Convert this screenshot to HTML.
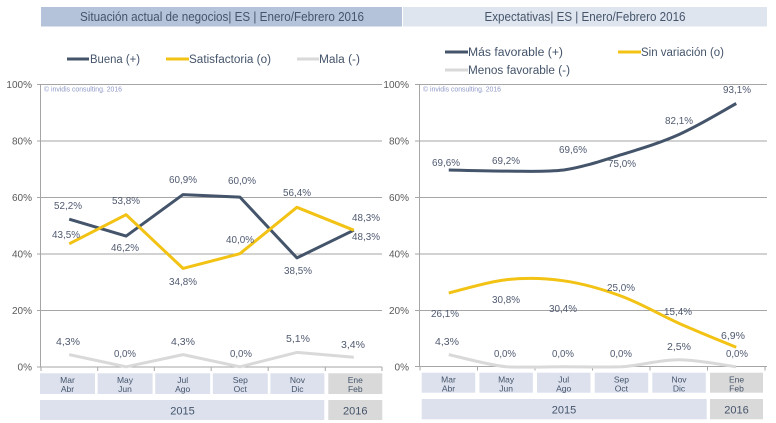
<!DOCTYPE html>
<html><head><meta charset="utf-8"><style>
html,body{margin:0;padding:0;background:#fff;}
svg{display:block;}
text{font-family:"Liberation Sans",sans-serif;}
</style></head><body>
<svg width="776" height="423" viewBox="0 0 776 423" xmlns="http://www.w3.org/2000/svg">
<!-- Title bars -->
<rect x="41" y="7" width="361" height="19.5" fill="#b4c2da"/>
<rect x="403" y="7" width="364" height="19.5" fill="#dfe5ef"/>
<text x="222" y="21" font-size="12.5" fill="#44546a" text-anchor="middle" textLength="284" lengthAdjust="spacingAndGlyphs">Situación actual de negocios| ES | Enero/Febrero 2016</text>
<text x="585" y="21" font-size="12.5" fill="#44546a" text-anchor="middle" textLength="201" lengthAdjust="spacingAndGlyphs">Expectativas| ES | Enero/Febrero 2016</text>

<!-- Left legend -->
<g font-size="11.5" fill="#44546a">
<line x1="67" y1="59" x2="89" y2="59" stroke="#44546a" stroke-width="3"/>
<text x="90" y="63" textLength="50" lengthAdjust="spacingAndGlyphs">Buena (+)</text>
<line x1="166" y1="59" x2="189" y2="59" stroke="#f2c314" stroke-width="3"/>
<text x="189" y="63" textLength="82" lengthAdjust="spacingAndGlyphs">Satisfactoria (o)</text>
<line x1="297" y1="59" x2="319" y2="59" stroke="#d9d9d9" stroke-width="3"/>
<text x="319" y="63" textLength="41" lengthAdjust="spacingAndGlyphs">Mala (-)</text>
<!-- Right legend -->
<line x1="445" y1="52" x2="468" y2="52" stroke="#44546a" stroke-width="3"/>
<text x="468" y="56" textLength="95" lengthAdjust="spacingAndGlyphs">Más favorable (+)</text>
<line x1="618" y1="52" x2="641" y2="52" stroke="#f2c314" stroke-width="3"/>
<text x="641" y="56" textLength="83" lengthAdjust="spacingAndGlyphs">Sin variación (o)</text>
<line x1="445" y1="70" x2="468" y2="70" stroke="#d9d9d9" stroke-width="3"/>
<text x="468" y="74" textLength="102" lengthAdjust="spacingAndGlyphs">Menos favorable (-)</text>
</g>

<!-- Left grid -->
<g stroke="#a6a6a6" stroke-width="1">
<line x1="37" y1="84.5" x2="382" y2="84.5"/>
<line x1="37" y1="141" x2="382" y2="141"/>
<line x1="37" y1="197.5" x2="382" y2="197.5"/>
<line x1="37" y1="254" x2="382" y2="254"/>
<line x1="37" y1="310.5" x2="382" y2="310.5"/>
<line x1="37" y1="367" x2="382" y2="367"/>
<line x1="40.5" y1="84" x2="40.5" y2="367"/>
<line x1="41" y1="367" x2="41" y2="371"/>
<line x1="97.7" y1="367" x2="97.7" y2="371"/>
<line x1="154.3" y1="367" x2="154.3" y2="371"/>
<line x1="211.2" y1="367" x2="211.2" y2="371"/>
<line x1="268.2" y1="367" x2="268.2" y2="371"/>
<line x1="325.3" y1="367" x2="325.3" y2="371"/>
<line x1="382" y1="367" x2="382" y2="371"/>
</g>
<!-- Right grid -->
<g stroke="#a6a6a6" stroke-width="1">
<line x1="415" y1="84.5" x2="767" y2="84.5"/>
<line x1="415" y1="141" x2="767" y2="141"/>
<line x1="415" y1="197.5" x2="767" y2="197.5"/>
<line x1="415" y1="254" x2="767" y2="254"/>
<line x1="415" y1="310.5" x2="767" y2="310.5"/>
<line x1="415" y1="366.5" x2="767" y2="366.5"/>
<line x1="419.5" y1="84" x2="419.5" y2="367"/>
<line x1="420" y1="366.5" x2="420" y2="370.5"/>
<line x1="477.5" y1="366.5" x2="477.5" y2="370.5"/>
<line x1="535" y1="366.5" x2="535" y2="370.5"/>
<line x1="592.5" y1="366.5" x2="592.5" y2="370.5"/>
<line x1="650" y1="366.5" x2="650" y2="370.5"/>
<line x1="707.5" y1="366.5" x2="707.5" y2="370.5"/>
<line x1="765" y1="366.5" x2="765" y2="370.5"/>
</g>

<!-- Y axis labels -->
<g font-size="10" fill="#595959" text-anchor="end">
<text x="32" y="88">100%</text>
<text x="32" y="144.5">80%</text>
<text x="32" y="201">60%</text>
<text x="32" y="257.5">40%</text>
<text x="32" y="314">20%</text>
<text x="32" y="370.5">0%</text>
<text x="409" y="88">100%</text>
<text x="409" y="144.5">80%</text>
<text x="409" y="201">60%</text>
<text x="409" y="257.5">40%</text>
<text x="409" y="314">20%</text>
<text x="409" y="370.5">0%</text>
</g>

<!-- Copyright -->
<text x="44" y="91.5" font-size="7" fill="#8e98c6" textLength="78" lengthAdjust="spacingAndGlyphs">© invidis consulting. 2016</text>
<text x="423" y="91.5" font-size="7" fill="#8e98c6" textLength="78" lengthAdjust="spacingAndGlyphs">© invidis consulting. 2016</text>

<!-- Left series -->
<g fill="none" stroke-width="3" stroke-linejoin="round">
<polyline stroke="#d9d9d9" points="69.2,354.6 126.1,366.8 183,354.6 239.9,366.8 296.9,352.4 353.8,357.2"/>
<polyline stroke="#44546a" points="69.2,219.2 126.1,236.1 183,194.6 239.9,197.1 296.9,257.9 353.8,230.2"/>
<polyline stroke="#f2c314" points="69.2,243.8 126.1,214.7 183,268.4 239.9,253.7 296.9,207.3 353.8,230.2"/>
</g>
<!-- Right series -->
<g fill="none" stroke-width="3" stroke-linejoin="round">
<path stroke="#d9d9d9" d="M448.75,354.6 C458.33,356.63 487.08,364.77 506.25,366.8 C525.42,367.6 544.58,366.8 563.75,366.8 C582.92,366.8 602.08,367.4 621.25,366.8 C640.42,365.62 659.58,359.7 678.75,359.7 C697.92,359.7 726.67,365.62 736.25,366.8"/>
<path stroke="#44546a" d="M448.75,170 C458.33,170.18 487.08,171.1 506.25,171.1 C525.42,171.1 544.58,172.2 563.75,170 C582.92,167.27 602.08,160.6 621.25,154.7 C640.42,148.8 659.58,143.13 678.75,134.6 C697.92,126.07 726.67,108.68 736.25,103.5"/>
<path stroke="#f2c314" d="M448.75,293 C458.33,290.78 487.08,281.73 506.25,279.7 C525.42,277.67 544.58,278.07 563.75,280.8 C582.92,283.53 602.08,289.03 621.25,296.1 C640.42,303.17 659.58,314.67 678.75,323.2 C697.92,331.73 726.67,343.28 736.25,347.3"/>
</g>

<!-- Data labels left -->
<g font-size="10" fill="#505a70" text-anchor="middle">
<text x="68" y="209" textLength="28" lengthAdjust="spacingAndGlyphs">52,2%</text>
<text x="66" y="238" textLength="28" lengthAdjust="spacingAndGlyphs">43,5%</text>
<text x="126" y="204" textLength="28" lengthAdjust="spacingAndGlyphs">53,8%</text>
<text x="125" y="251" textLength="28" lengthAdjust="spacingAndGlyphs">46,2%</text>
<text x="183" y="183" textLength="28" lengthAdjust="spacingAndGlyphs">60,9%</text>
<text x="183" y="285" textLength="28" lengthAdjust="spacingAndGlyphs">34,8%</text>
<text x="242" y="184" textLength="28" lengthAdjust="spacingAndGlyphs">60,0%</text>
<text x="240" y="243" textLength="28" lengthAdjust="spacingAndGlyphs">40,0%</text>
<text x="297" y="196" textLength="28" lengthAdjust="spacingAndGlyphs">56,4%</text>
<text x="298" y="274" textLength="28" lengthAdjust="spacingAndGlyphs">38,5%</text>
<text x="366" y="221" textLength="28" lengthAdjust="spacingAndGlyphs">48,3%</text>
<text x="366" y="240" textLength="28" lengthAdjust="spacingAndGlyphs">48,3%</text>
<text x="68" y="345" textLength="24" lengthAdjust="spacingAndGlyphs">4,3%</text>
<text x="125" y="357" textLength="22" lengthAdjust="spacingAndGlyphs">0,0%</text>
<text x="183" y="345" textLength="24" lengthAdjust="spacingAndGlyphs">4,3%</text>
<text x="241" y="357" textLength="22" lengthAdjust="spacingAndGlyphs">0,0%</text>
<text x="298" y="342" textLength="24" lengthAdjust="spacingAndGlyphs">5,1%</text>
<text x="353" y="348" textLength="24" lengthAdjust="spacingAndGlyphs">3,4%</text>
</g>
<!-- Data labels right -->
<g font-size="10" fill="#505a70" text-anchor="middle">
<text x="446" y="166" textLength="28" lengthAdjust="spacingAndGlyphs">69,6%</text>
<text x="506" y="164" textLength="28" lengthAdjust="spacingAndGlyphs">69,2%</text>
<text x="573" y="153" textLength="28" lengthAdjust="spacingAndGlyphs">69,6%</text>
<text x="622" y="167" textLength="28" lengthAdjust="spacingAndGlyphs">75,0%</text>
<text x="679" y="124" textLength="28" lengthAdjust="spacingAndGlyphs">82,1%</text>
<text x="737" y="93" textLength="28" lengthAdjust="spacingAndGlyphs">93,1%</text>
<text x="445" y="317" textLength="28" lengthAdjust="spacingAndGlyphs">26,1%</text>
<text x="506" y="303" textLength="28" lengthAdjust="spacingAndGlyphs">30,8%</text>
<text x="563" y="312" textLength="28" lengthAdjust="spacingAndGlyphs">30,4%</text>
<text x="621" y="291" textLength="28" lengthAdjust="spacingAndGlyphs">25,0%</text>
<text x="678" y="315" textLength="28" lengthAdjust="spacingAndGlyphs">15,4%</text>
<text x="733" y="339" textLength="24" lengthAdjust="spacingAndGlyphs">6,9%</text>
<text x="447" y="345" textLength="24" lengthAdjust="spacingAndGlyphs">4,3%</text>
<text x="505" y="357" textLength="22" lengthAdjust="spacingAndGlyphs">0,0%</text>
<text x="563" y="357" textLength="22" lengthAdjust="spacingAndGlyphs">0,0%</text>
<text x="621" y="357" textLength="22" lengthAdjust="spacingAndGlyphs">0,0%</text>
<text x="679" y="350" textLength="24" lengthAdjust="spacingAndGlyphs">2,5%</text>
<text x="737" y="357" textLength="22" lengthAdjust="spacingAndGlyphs">0,0%</text>
</g>

<!-- Left category boxes -->
<g fill="#dce1ed">
<rect x="40" y="373.3" width="55" height="20.7"/>
<rect x="97.6" y="373.3" width="55" height="20.7"/>
<rect x="155.2" y="373.3" width="55" height="20.7"/>
<rect x="212.8" y="373.3" width="55" height="20.7"/>
<rect x="270.4" y="373.3" width="54" height="20.7"/>
<rect x="40" y="400" width="284.3" height="20"/>
<rect x="421.7" y="372.7" width="53.5" height="20"/>
<rect x="479.4" y="372.7" width="53.5" height="20"/>
<rect x="537" y="372.7" width="53.5" height="20"/>
<rect x="594.7" y="372.7" width="53.5" height="20"/>
<rect x="652.3" y="372.7" width="53.5" height="20"/>
<rect x="421.7" y="399" width="285" height="20.3"/>
</g>
<g fill="#d9d9d9">
<rect x="328.3" y="373.3" width="54" height="20.7"/>
<rect x="328.3" y="400" width="54" height="20"/>
<rect x="710" y="372.7" width="53" height="20"/>
<rect x="710" y="399" width="53" height="20.3"/>
</g>
<g font-size="8.5" fill="#44546a" text-anchor="middle">
<text x="67.5" y="383">Mar</text><text x="67.5" y="392">Abr</text>
<text x="125" y="383">May</text><text x="125" y="392">Jun</text>
<text x="182.7" y="383">Jul</text><text x="182.7" y="392">Ago</text>
<text x="240.3" y="383">Sep</text><text x="240.3" y="392">Oct</text>
<text x="297.4" y="383">Nov</text><text x="297.4" y="392">Dic</text>
<text x="355.3" y="383">Ene</text><text x="355.3" y="392">Feb</text>
<text x="448.5" y="382.5">Mar</text><text x="448.5" y="391.5">Abr</text>
<text x="506.1" y="382.5">May</text><text x="506.1" y="391.5">Jun</text>
<text x="563.7" y="382.5">Jul</text><text x="563.7" y="391.5">Ago</text>
<text x="621.4" y="382.5">Sep</text><text x="621.4" y="391.5">Oct</text>
<text x="679" y="382.5">Nov</text><text x="679" y="391.5">Dic</text>
<text x="736.5" y="382.5">Ene</text><text x="736.5" y="391.5">Feb</text>
</g>
<g font-size="11" fill="#44546a" text-anchor="middle">
<text x="182.5" y="414.5">2015</text>
<text x="355.3" y="414.5">2016</text>
<text x="564" y="413.5">2015</text>
<text x="736.5" y="413.5">2016</text>
</g>
</svg>
</body></html>
